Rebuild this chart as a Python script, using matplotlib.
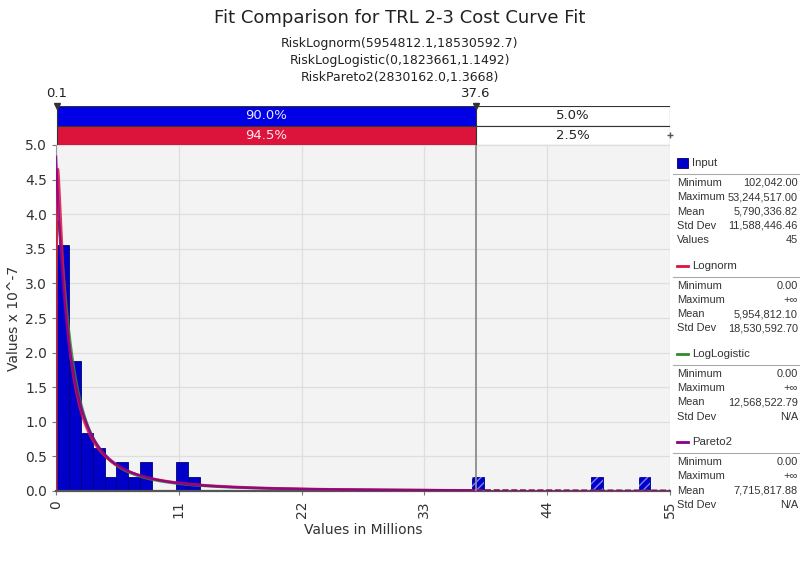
import numpy as np
import matplotlib
matplotlib.use("Agg")
import matplotlib.pyplot as plt
from matplotlib.patches import Rectangle

plt.rcParams['font.family'] = ['DejaVu Sans']

# ---- data -------------------------------------------------------------
n_values = 45
data_min = 102042.00
data_max = 53244517.00
n_bins = 50
# counts of input values in each of the 50 histogram bins
bin_counts = [17, 9, 4, 3, 1, 2, 1, 2, 0, 0,
              2, 1, 0, 0, 0, 0, 0, 0, 0, 0,
              0, 0, 0, 0, 0, 0, 0, 0, 0, 0,
              0, 0, 0, 0, 0, 1, 0, 0, 0, 0,
              0, 0, 0, 0, 0, 1, 0, 0, 0, 1]

lognorm_mean, lognorm_sd = 5954812.1, 18530592.7
loglog_gamma, loglog_beta, loglog_alpha = 0.0, 1823661.0, 1.1492
pareto_b, pareto_q = 2830162.0, 1.3668

left_delim, right_delim = 0.1, 37.6
input_pcts = ["90.0%", "5.0%"]
fit_pcts = ["94.5%", "2.5%"]

x_ticks = [0, 11, 22, 33, 44, 55]
y_ticks = [0.0, 0.5, 1.0, 1.5, 2.0, 2.5, 3.0, 3.5, 4.0, 4.5, 5.0]

title = "Fit Comparison for TRL 2-3 Cost Curve Fit"
subtitles = ["RiskLognorm(5954812.1,18530592.7)",
             "RiskLogLogistic(0,1823661,1.1492)",
             "RiskPareto2(2830162.0,1.3668)"]

legend_blocks = [
    ("Input", "#0000C8", "box",
     [("Minimum", "102,042.00"), ("Maximum", "53,244,517.00"),
      ("Mean", "5,790,336.82"), ("Std Dev", "11,588,446.46"), ("Values", "45")]),
    ("Lognorm", "#DC143C", "line",
     [("Minimum", "0.00"), ("Maximum", "+\u221e"),
      ("Mean", "5,954,812.10"), ("Std Dev", "18,530,592.70")]),
    ("LogLogistic", "#2E8B2E", "line",
     [("Minimum", "0.00"), ("Maximum", "+\u221e"),
      ("Mean", "12,568,522.79"), ("Std Dev", "N/A")]),
    ("Pareto2", "#8B008B", "line",
     [("Minimum", "0.00"), ("Maximum", "+\u221e"),
      ("Mean", "7,715,817.88"), ("Std Dev", "N/A")]),
]

# ---- figure -----------------------------------------------------------
W, H = 800, 563
fig = plt.figure(figsize=(W / 100, H / 100), dpi=100)
fig.patch.set_facecolor("white")

def fx(px):
    return px / W

def fy(py):
    return 1 - py / H

ax_l, ax_r, ax_t, ax_b = 56, 670, 145, 491
ax = fig.add_axes([fx(ax_l), fy(ax_b), fx(ax_r - ax_l), (ax_b - ax_t) / H])
ax.set_facecolor("#F3F3F3")

# histogram bars (density, in units of 1e-7 per dollar, x in millions)
edges_m = np.linspace(data_min, data_max, n_bins + 1) / 1e6
width_m = edges_m[1] - edges_m[0]
dens = np.array(bin_counts) / (n_values * width_m * 1e6) * 1e7
for x0, h in zip(edges_m[:-1], dens):
    if h <= 0:
        continue
    ax.bar(x0, h, width=width_m, align="edge", color="#0000C8",
           edgecolor="#00007A", linewidth=0.6, zorder=2)
    if x0 + width_m > right_delim:
        ax.bar(x0, h, width=width_m, align="edge", facecolor="none",
               edgecolor="#7F7FFF", hatch="////", linewidth=0, zorder=3)

# fitted densities
xm = np.concatenate([[0.0], np.geomspace(1e-4, 55, 3000)])
xd = xm * 1e6
s2 = np.log(1 + (lognorm_sd / lognorm_mean) ** 2)
s = np.sqrt(s2)
mu = np.log(lognorm_mean) - s2 / 2
with np.errstate(divide="ignore", invalid="ignore"):
    pdf_ln = np.where(xd > 0,
                      np.exp(-(np.log(xd) - mu) ** 2 / (2 * s2)) / (xd * s * np.sqrt(2 * np.pi)),
                      0.0)
z = (xd - loglog_gamma) / loglog_beta
pdf_ll = (loglog_alpha / loglog_beta) * z ** (loglog_alpha - 1) / (1 + z ** loglog_alpha) ** 2
pdf_ll[0] = 0.0
pdf_p2 = pareto_q * pareto_b ** pareto_q / (xd + pareto_b) ** (pareto_q + 1)

inner = xm <= right_delim
outer = xm >= right_delim
for pdf, col in [(pdf_ll, "#2E8B2E"), (pdf_ln, "#DC143C"), (pdf_p2, "#8B008B")]:
    ax.plot(xm[inner], pdf[inner] * 1e7, color=col, lw=1.8, zorder=4, alpha=0.85)
    ax.plot(xm[outer], pdf[outer] * 1e7, color=col, lw=1.4, ls=(0, (3, 1.5)),
            zorder=4, alpha=0.85)

ax.axvline(right_delim, color="#8C8C8C", lw=1.3, zorder=5)

ax.set_xlim(0, 55)
ax.set_ylim(0, 5.0)
ax.set_xticks(x_ticks)
ax.set_xticklabels([str(t) for t in x_ticks], rotation=90, fontsize=10)
ax.set_yticks(y_ticks)
ax.set_yticklabels([f"{t:.1f}" for t in y_ticks], fontsize=10)
ax.grid(True, color="#DEDEDE", lw=0.9, zorder=0)
ax.set_axisbelow(True)
for sp in ["top", "right"]:
    ax.spines[sp].set_visible(False)
ax.spines["left"].set_color("#9A9A9A")
ax.spines["bottom"].set_color("#555555")
ax.spines["bottom"].set_linewidth(1.6)
ax.tick_params(axis="both", colors="#777777", length=3, labelcolor="#333333")
ax.set_xlabel("Values in Millions", fontsize=10, color="#333333", labelpad=4)
ax.set_ylabel("Values x 10^-7", fontsize=10, color="#333333", labelpad=3)

# delimiter bars above the plot
dax = fig.add_axes([fx(ax_l), fy(145), fx(ax_r - ax_l), (145 - 106) / H])
dax.set_xlim(0, 55)
dax.set_ylim(0, 2)
dax.axis("off")
dax.add_patch(Rectangle((left_delim, 1), right_delim - left_delim, 1,
                        facecolor="#0000E6", edgecolor="#333333", lw=0.8))
dax.add_patch(Rectangle((left_delim, 0), right_delim - left_delim, 1,
                        facecolor="#DC143C", edgecolor="#333333", lw=0.8))
dax.add_patch(Rectangle((right_delim, 1), 55 - right_delim, 1,
                        facecolor="white", edgecolor="#333333", lw=0.8))
dax.add_patch(Rectangle((right_delim, 0), 55 - right_delim, 1,
                        facecolor="white", edgecolor="#333333", lw=0.8))
mid_l = (left_delim + right_delim) / 2
mid_r = (right_delim + 55) / 2
dax.text(mid_l, 1.5, input_pcts[0], ha="center", va="center", color="#E8E8FF", fontsize=9.5)
dax.text(mid_l, 0.5, fit_pcts[0], ha="center", va="center", color="#FFE8EC", fontsize=9.5)
dax.text(mid_r, 1.5, input_pcts[1], ha="center", va="center", color="#222222", fontsize=9.5)
dax.text(mid_r, 0.5, fit_pcts[1], ha="center", va="center", color="#222222", fontsize=9.5)
dax.plot([left_delim, right_delim], [2, 2], ls="none", marker="v", ms=4,
         color="#333333", clip_on=False)
dax.text(left_delim, 2.3, f"{left_delim}", ha="center", va="bottom", fontsize=9.5, color="#222222")
dax.text(right_delim, 2.3, f"{right_delim}", ha="center", va="bottom", fontsize=9.5, color="#222222")
dax.plot([55], [0.5], marker="+", ms=5, color="#555555", clip_on=False)

# titles
fig.text(0.5, fy(18), title, ha="center", va="center", fontsize=13, color="#222222")
for k, st in enumerate(subtitles):
    fig.text(0.5, fy(43 + 17.5 * k), st,
             ha="center", va="center", fontsize=9, color="#222222")

# statistics legend panel
stat_font = ['Liberation Sans', 'DejaVu Sans']
lx0, lx1 = 673, 798
y = 163
for name, col, kind, rows in legend_blocks:
    if kind == "box":
        fig.patches.append(Rectangle((fx(677), fy(y + 5)), fx(11), 10 / H,
                                     transform=fig.transFigure, facecolor=col,
                                     edgecolor="#000060", lw=0.6))
    else:
        fig.lines.append(plt.Line2D([fx(677), fx(688)], [fy(y), fy(y)],
                                    transform=fig.transFigure, color=col, lw=2))
    fig.text(fx(692), fy(y), name, ha="left", va="center", fontsize=8.2,
             color="#333333", family=stat_font)
    fig.lines.append(plt.Line2D([fx(lx0), fx(800)], [fy(y + 11), fy(y + 11)],
                                transform=fig.transFigure, color="#AAAAAA", lw=0.8))
    ry = y + 20
    for lab, val in rows:
        fig.text(fx(677), fy(ry), lab, ha="left", va="center", fontsize=7.9,
                 color="#333333", family=stat_font)
        fig.text(fx(lx1), fy(ry), val, ha="right", va="center", fontsize=7.9,
                 color="#333333", family=stat_font)
        ry += 14.3
    y = ry + 11

fig.savefig("out.png", dpi=100)
